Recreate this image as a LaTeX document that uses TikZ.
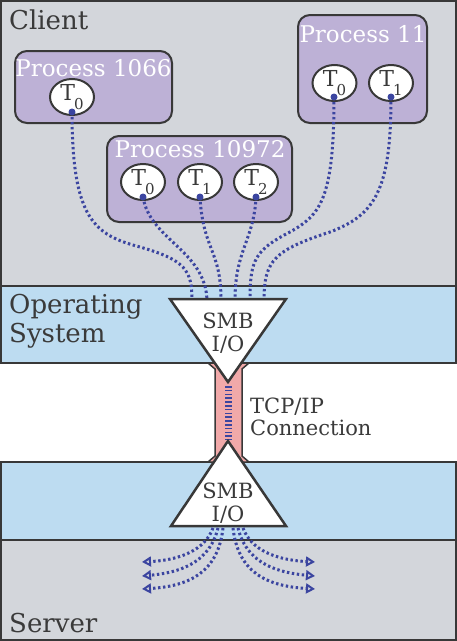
\documentclass[tikz,border=0pt]{standalone}
\usepackage{fontspec}
\setmainfont{DejaVu Serif}
\usetikzlibrary{shapes.geometric,arrows.meta}
\definecolor{cgray}{HTML}{D3D6DB}
\definecolor{cblue}{HTML}{BDDCF1}
\definecolor{cpurple}{HTML}{BDB1D6}
\definecolor{cpink}{HTML}{F1A9A9}
\definecolor{cline}{HTML}{383838}
\definecolor{cthread}{HTML}{3B45A0}
\definecolor{ctext}{HTML}{3A3A3A}
\begin{document}
\begin{tikzpicture}[x=1pt,y=-1pt,
  region/.style={draw=cline, line width=2pt},
  procbox/.style={draw=cline, fill=cpurple, line width=2pt, rounded corners=12pt},
  plabel/.style={text=white, font=\fontsize{23}{23}\selectfont, anchor=base, inner sep=0pt},
  biglabel/.style={text=ctext, font=\fontsize{26}{26}\selectfont, anchor=base west, inner sep=0pt},
  midlabel/.style={text=ctext, font=\fontsize{21}{21}\selectfont, anchor=base, inner sep=0pt},
  thr/.style={ellipse, draw=cline, fill=white, line width=2pt, minimum width=44pt, minimum height=36pt, inner sep=0pt, text=ctext, font=\fontsize{22}{22}\selectfont},
  wire/.style={draw=cthread, line width=3pt, dash pattern=on 2.4pt off 2.6pt},
  dotc/.style={circle, fill=cthread, inner sep=0pt, minimum size=7pt},
  tri/.style={draw=cline, fill=white, line width=2.5pt, line join=miter},
  tip/.style={-{Triangle[open, length=9pt, width=10pt, line width=2pt]}}
]
\newcommand{\Tsub}[1]{T\kern-1pt\raisebox{-9pt}{\fontsize{15}{15}\selectfont #1}}
\useasboundingbox (0,0) rectangle (457,641);
% regions
\fill[white] (0,0) rectangle (457,641);
\path[region, fill=cgray] (1,1) rectangle (456,286);
\path[region, fill=cblue] (1,286) rectangle (456,363);
\path[region, fill=cblue] (1,462) rectangle (456,540);
\path[region, fill=cgray] (1,540) rectangle (456,640);
% pink connection
\path[draw=cline, fill=cpink, line width=1.5pt, line join=miter]
  (208,363) -- (215,369) -- (215,456) -- (208,462) -- (249,462) -- (242,456) -- (242,369) -- (249,363) -- cycle;
\draw[cthread, line width=7pt, dash pattern=on 1.6pt off 2.2pt] (228,386) -- (228,440);
% process boxes
\path[procbox] (15,51) rectangle (172,123);
\path[procbox] (298,15) rectangle (427,123);
\path[procbox] (107,136) rectangle (292,222);
\node[plabel] (l1066) at (93.5,76) {Process 1066};
\node[plabel] (l11) at (363,42) {Process 11};
\node[plabel] (l10972) at (200,157) {Process 10972};
% threads
\node[thr] (a0) at (72,97) {\Tsub{0}};
\node[thr] (b0) at (334.5,83) {\Tsub{0}};
\node[thr] (b1) at (391,83) {\Tsub{1}};
\node[thr] (c0) at (143,182) {\Tsub{0}};
\node[thr] (c1) at (200,182) {\Tsub{1}};
\node[thr] (c2) at (256,182) {\Tsub{2}};
\coordinate (da0) at (72,112);
\coordinate (db0) at (334,97);
\coordinate (db1) at (391,97);
\coordinate (dc0) at (143,197);
\coordinate (dc1) at (200,197);
\coordinate (dc2) at (256,197);
% triangle top entry points
\coordinate (e1) at (192,300);
\coordinate (e2) at (207,300);
\coordinate (e3) at (221,300);
\coordinate (e4) at (235,300);
\coordinate (e5) at (250,300);
\coordinate (e6) at (264,300);
\draw[wire] (da0) .. controls (72,220) and (95,235) .. (140,247) .. controls (185,260) and (192,270) .. (e1);
\draw[wire] (dc0) .. controls (150,240) and (205,250) .. (e2);
\draw[wire] (dc1) .. controls (203,250) and (221,250) .. (e3);
\draw[wire] (dc2) .. controls (254,240) and (235,250) .. (e4);
\draw[wire] (db0) .. controls (334,200) and (320,215) .. (290,232) .. controls (255,250) and (250,260) .. (e5);
\draw[wire] (db1) .. controls (391,190) and (375,215) .. (330,232) .. controls (275,250) and (264,260) .. (e6);
\foreach \d in {da0,db0,db1,dc0,dc1,dc2} \node[dotc] at (\d) {};
% triangles
\path[tri] (170,299) -- (286,299) -- (228,382) -- cycle;
\path[tri] (171,526) -- (286,526) -- (228,441) -- cycle;
\node[midlabel] (smbt) at (228,328) {SMB};
\node[midlabel] (iot) at (228,351) {I/O};
\node[midlabel] (smbb) at (228,498) {SMB};
\node[midlabel] (iob) at (228,521) {I/O};
% server fan
\coordinate (s1) at (213,528);
\coordinate (s2) at (218,528);
\coordinate (s3) at (223,528);
\coordinate (s4) at (233,528);
\coordinate (s5) at (238,528);
\coordinate (s6) at (243,528);
\coordinate (lt1) at (142,562);
\coordinate (lt2) at (142,576);
\coordinate (lt3) at (142,589);
\coordinate (rt1) at (315,562);
\coordinate (rt2) at (315,576);
\coordinate (rt3) at (315,589);
\draw[wire, tip] (s1) .. controls (205,550) and (180,560) .. (lt1);
\draw[wire, tip] (s2) .. controls (210,560) and (185,572) .. (lt2);
\draw[wire, tip] (s3) .. controls (218,572) and (190,586) .. (lt3);
\draw[wire, tip] (s6) .. controls (251,550) and (276,560) .. (rt1);
\draw[wire, tip] (s5) .. controls (246,560) and (271,572) .. (rt2);
\draw[wire, tip] (s4) .. controls (238,572) and (266,586) .. (rt3);
% labels
\node[biglabel] (client) at (9,29) {Client};
\node[biglabel] (os1) at (9,313) {Operating};
\node[biglabel] (os2) at (9,342) {System};
\node[biglabel] (server) at (9,632) {Server};
\node[midlabel, anchor=base west] (tcp1) at (250,413) {TCP/IP};
\node[midlabel, anchor=base west] (tcp2) at (250,435) {Connection};
\end{tikzpicture}
\end{document}
